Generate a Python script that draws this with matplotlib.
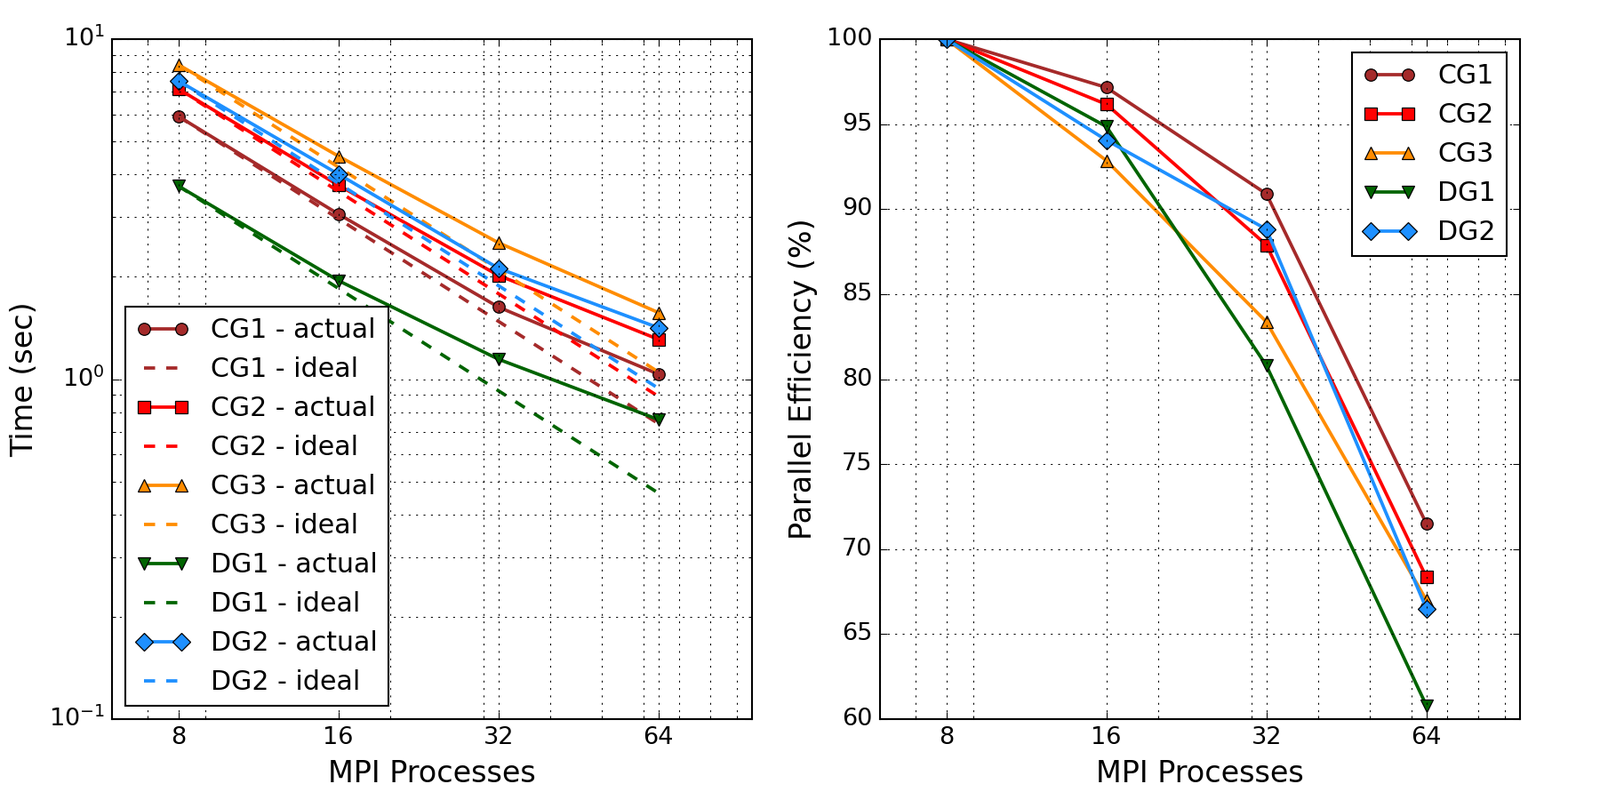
import matplotlib
matplotlib.use('Agg')
import matplotlib.pyplot as plt
from matplotlib.ticker import NullFormatter

# MPI process counts (x axis)
procs = [8, 16, 32, 64]
proc_labels = ['8', '16', '32', '64']

# wall time (sec), measured
cg1_time = [5.93, 3.06, 1.63, 1.035]
cg2_time = [7.14, 3.72, 2.02, 1.31]
cg3_time = [8.41, 4.53, 2.52, 1.57]
dg1_time = [3.70, 1.95, 1.145, 0.761]
dg2_time = [7.54, 4.01, 2.12, 1.417]

# ideal (linear) scaling times
cg1_ideal = [5.93, 2.965, 1.48, 0.74]
cg2_ideal = [7.14, 3.57, 1.785, 0.89]
cg3_ideal = [8.41, 4.205, 2.10, 1.05]
dg1_ideal = [3.70, 1.85, 0.925, 0.4625]
dg2_ideal = [7.54, 3.77, 1.885, 0.94]

# parallel efficiency (%)
cg1_eff = [100, 97.16, 90.9, 71.5]
cg2_eff = [100, 96.17, 87.9, 68.35]
cg3_eff = [100, 92.86, 83.37, 67.0]
dg1_eff = [100, 94.86, 80.8, 60.8]
dg2_eff = [100, 94.06, 88.82, 66.5]

names = ['CG1', 'CG2', 'CG3', 'DG1', 'DG2']
colors = ['#a52a2a', '#ff0000', '#ff8c00', '#006400', '#1e90ff']
markers = ['o', 's', '^', 'v', 'D']

times = [cg1_time, cg2_time, cg3_time, dg1_time, dg2_time]
ideals = [cg1_ideal, cg2_ideal, cg3_ideal, dg1_ideal, dg2_ideal]
effs = [cg1_eff, cg2_eff, cg3_eff, dg1_eff, dg2_eff]

plt.style.use('classic')
plt.rcParams['xtick.labelsize'] = 13
plt.rcParams['ytick.labelsize'] = 13
plt.rcParams['axes.labelsize'] = 16
plt.rcParams['legend.fontsize'] = 14.4

fig, (ax1, ax2) = plt.subplots(1, 2, figsize=(12, 6), facecolor='white')
fig.subplots_adjust(left=0.07, right=0.95, bottom=0.101, top=0.951, wspace=0.2)

lw = 1.8
ms = 6.5

# left: timing
for name, c, m, t, ti in zip(names, colors, markers, times, ideals):
    ax1.plot(procs, t, color=c, marker=m, lw=lw, ms=ms, mec='k', mew=0.6,
             label=name + ' - actual')
    ax1.plot(procs, ti, color=c, ls='--', lw=lw, label=name + ' - ideal')

ax1.set_xscale('log')
ax1.set_yscale('log')
ax1.set_xlim(6, 96)
ax1.set_ylim(0.1, 10)
ax1.set_xticks(procs)
ax1.set_xticklabels(proc_labels)
ax1.xaxis.set_minor_formatter(NullFormatter())
ax1.grid(True, which='both')
ax1.set_xlabel('MPI Processes')
ax1.set_ylabel('Time (sec)')
ax1.legend(loc='lower left')

# right: efficiency
for name, c, m, e in zip(names, colors, markers, effs):
    ax2.plot(procs, e, color=c, marker=m, lw=lw, ms=ms, mec='k', mew=0.6,
             label=name)

ax2.set_xscale('log')
ax2.set_xlim(6, 96)
ax2.set_ylim(60, 100)
ax2.set_xticks(procs)
ax2.set_xticklabels(proc_labels)
ax2.xaxis.set_minor_formatter(NullFormatter())
ax2.set_yticks(range(60, 101, 5))
ax2.grid(True, which='both')
ax2.set_xlabel('MPI Processes')
ax2.set_ylabel('Parallel Efficiency (%)')
ax2.legend(loc='upper right')

fig.savefig('out.png', dpi=150, facecolor='white')
